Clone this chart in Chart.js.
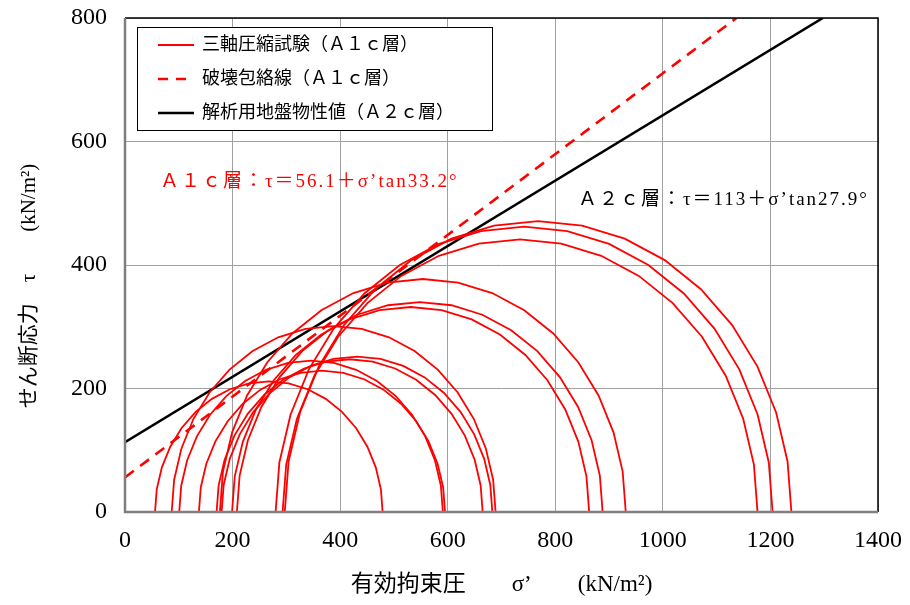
<!DOCTYPE html>
<html>
<head>
<meta charset="utf-8">
<script src="https://cdn.jsdelivr.net/npm/chart.js@4.4.1/dist/chart.umd.min.js"></script>
<style>
  html, body { margin: 0; padding: 0; background: #fff; }
</style>
</head>
<body>
<canvas id="myChart" width="910" height="605"></canvas>
<script>
// ----------------------------
// データ（モール円：σ3, σ1）
// ----------------------------
const sigma3 = [55.8, 100.8, 137.4, 170.3, 179.6, 86.8, 199, 208, 176.4, 280, 293, 297];
const sigma1 = [479, 591, 595, 665, 683, 689, 863, 888, 931, 1204, 1176, 1239];

// 破壊包絡線 (A1c層) / 解析用地盤物性値 (A2c層)
const a1cCohesion = 56.1;
const a1cPhi = 33.2;
const a2cCohesion = 113;
const a2cPhi = 27.9;

const xTicks = [0, 200, 400, 600, 800, 1000, 1200, 1400];
const yTicks = [0, 200, 400, 600, 800];

const legendLabels = ['三軸圧縮試験（Ａ１ｃ層）', '破壊包絡線（Ａ１ｃ層）', '解析用地盤物性値（Ａ２ｃ層）'];
const noteA1c = 'Ａ１ｃ層：τ＝56.1＋σ’tan33.2°';
const noteA2c = 'Ａ２ｃ層：τ＝113＋σ’tan27.9°';

const FONT = "'Liberation Serif', 'Noto Sans CJK JP', serif";

// 円を10°刻みの折れ線にする
function mohrCircle(s3, s1) {
    const c = (s1 + s3) / 2;
    const r = (s1 - s3) / 2;
    const pts = [];
    for (let d = 0; d <= 180; d += 10) {
        const a = d * Math.PI / 180;
        pts.push({ x: c + r * Math.cos(a), y: r * Math.sin(a) });
    }
    return pts;
}

function envelope(c, phi) {
    const t = Math.tan(phi * Math.PI / 180);
    const xEnd = Math.min(xTicks[xTicks.length - 1], (yTicks[yTicks.length - 1] - c) / t);
    return [{ x: 0, y: c }, { x: xEnd, y: c + t * xEnd }];
}

const datasets = sigma3.map((s3, i) => ({
    data: mohrCircle(s3, sigma1[i]),
    borderColor: '#ff0000',
    borderWidth: 1.8,
    showLine: true,
    pointRadius: 0,
    tension: 0
}));

datasets.push({
    data: envelope(a1cCohesion, a1cPhi),
    borderColor: '#ff0000',
    borderWidth: 2.6,
    borderDash: [11, 8],
    showLine: true,
    pointRadius: 0
});
datasets.push({
    data: envelope(a2cCohesion, a2cPhi),
    borderColor: '#000000',
    borderWidth: 2.6,
    showLine: true,
    pointRadius: 0
});

// 枠・凡例・注記
const decorPlugin = {
    id: 'decor',
    afterDatasetsDraw(chart) {
        const { ctx, chartArea, scales } = chart;
        ctx.save();
        // 枠
        ctx.strokeStyle = '#000';
        ctx.lineWidth = 1.5;
        ctx.beginPath();
        ctx.moveTo(chartArea.left, chartArea.top);
        ctx.lineTo(chartArea.right, chartArea.top);
        ctx.lineTo(chartArea.right, chartArea.bottom);
        ctx.stroke();
        ctx.strokeStyle = '#7f7f7f';
        ctx.lineWidth = 2.5;
        ctx.beginPath();
        ctx.moveTo(chartArea.left, chartArea.top);
        ctx.lineTo(chartArea.left, chartArea.bottom);
        ctx.lineTo(chartArea.right, chartArea.bottom);
        ctx.stroke();

        // 注記
        ctx.font = '19px ' + FONT;
        ctx.letterSpacing = '2px';
        ctx.textBaseline = 'middle';
        ctx.textAlign = 'left';
        ctx.fillStyle = '#ff0000';
        ctx.fillText(noteA1c, scales.x.getPixelForValue(65), scales.y.getPixelForValue(534));
        ctx.fillStyle = '#000';
        ctx.fillText(noteA2c, scales.x.getPixelForValue(842), scales.y.getPixelForValue(505));
        ctx.letterSpacing = '0px';

        // 凡例
        const bx = 137, by = 27, bw = 355, bh = 103;
        ctx.fillStyle = '#fff';
        ctx.fillRect(bx, by, bw, bh);
        ctx.strokeStyle = '#000';
        ctx.lineWidth = 1;
        ctx.strokeRect(bx + 0.5, by + 0.5, bw, bh);
        const src = [datasets[0], datasets[sigma3.length], datasets[sigma3.length + 1]];
        src.forEach((ds, i) => {
            const yy = by + 18 + i * 34;
            ctx.strokeStyle = ds.borderColor;
            ctx.lineWidth = ds === datasets[0] ? 2 : 2.6;
            ctx.setLineDash(ds.borderDash ? [10, 8] : []);
            ctx.beginPath();
            ctx.moveTo(158, yy);
            ctx.lineTo(194, yy);
            ctx.stroke();
            ctx.setLineDash([]);
            ctx.fillStyle = '#000';
            ctx.font = '18px ' + FONT;
            ctx.fillText(legendLabels[i], 202, yy);
        });
        ctx.restore();
    }
};

const ctx = document.getElementById('myChart').getContext('2d');
const chart = new Chart(ctx, {
    type: 'scatter',
    data: { datasets: datasets },
    options: {
        responsive: false,
        animation: false,
        layout: { padding: { left: 0, right: 32, top: 18, bottom: 0 } },
        plugins: {
            legend: { display: false },
            tooltip: { enabled: false }
        },
        scales: {
            x: {
                type: 'linear',
                min: xTicks[0],
                max: xTicks[xTicks.length - 1],
                afterBuildTicks: (s) => { s.ticks = xTicks.map(v => ({ value: v })); },
                afterFit: (s) => { s.height = 93; s.paddingLeft = 0; s.paddingRight = 0; },
                ticks: { color: '#000', font: { family: FONT, size: 24 }, padding: 14, callback: (v) => String(v) },
                grid: { color: '#a0a0a0', lineWidth: 1, drawTicks: false },
                border: { display: false },
                title: {
                    display: true,
                    text: '有効拘束圧　　σ’　　(kN/m²)',
                    color: '#000',
                    font: { family: FONT, size: 23 },
                    padding: { top: 0, bottom: 6 }
                }
            },
            y: {
                type: 'linear',
                min: yTicks[0],
                max: yTicks[yTicks.length - 1],
                afterBuildTicks: (s) => { s.ticks = yTicks.map(v => ({ value: v })); },
                afterFit: (s) => { s.width = 125; s.paddingTop = 0; s.paddingBottom = 0; },
                ticks: { color: '#000', font: { family: FONT, size: 24 }, padding: 18, callback: (v) => String(v) },
                grid: { color: '#a0a0a0', lineWidth: 1, drawTicks: false },
                border: { display: false },
                title: {
                    display: true,
                    text: 'せん断応力　τ　　(kN/m²)　　',
                    color: '#000',
                    font: { family: FONT, size: 21 },
                    padding: { top: 17, bottom: 0 }
                }
            }
        }
    },
    plugins: [decorPlugin]
});
</script>
</body>
</html>
